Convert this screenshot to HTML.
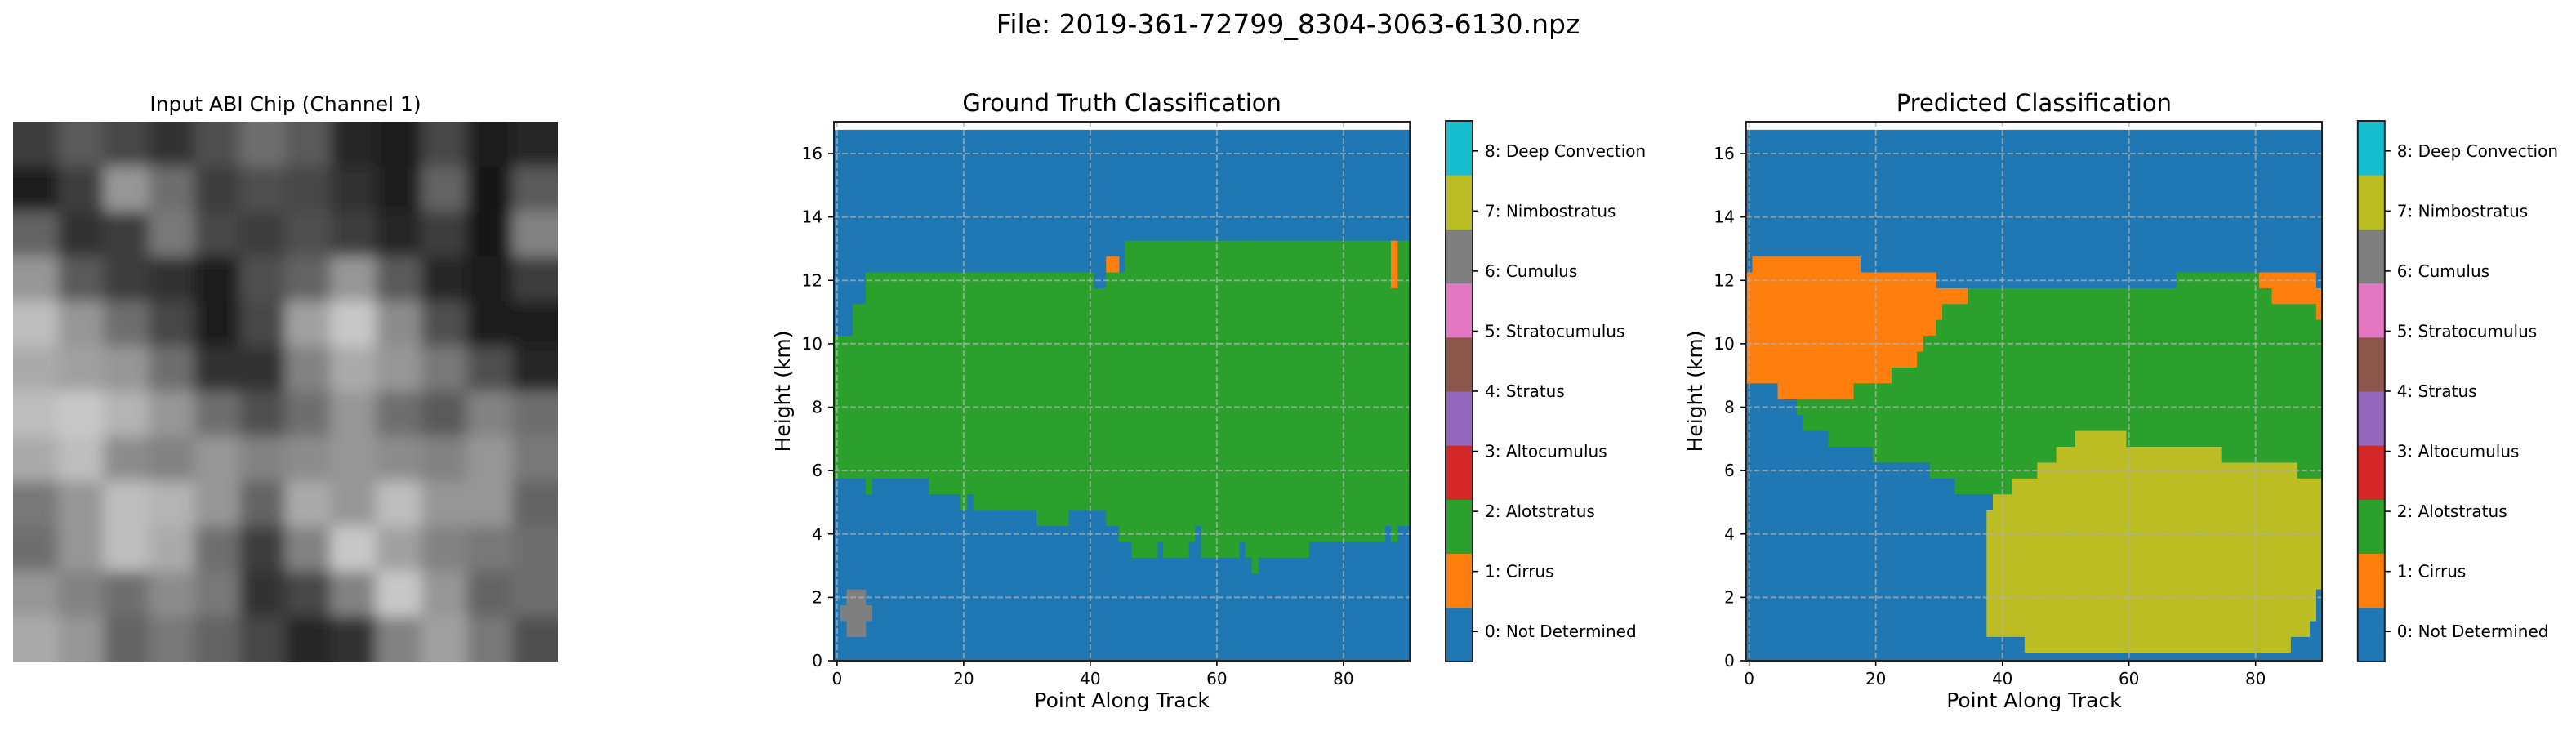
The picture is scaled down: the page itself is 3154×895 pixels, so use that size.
<!DOCTYPE html>
<html><head><meta charset="utf-8"><style>
html,body{margin:0;padding:0;background:#fff}
svg text{font-family:"DejaVu Sans","Liberation Sans",sans-serif;fill:#000}
</style></head><body>
<svg id="fig" width="3154" height="890" viewBox="0 0 3154 890" xmlns="http://www.w3.org/2000/svg">
<defs><filter id="blur" filterUnits="userSpaceOnUse" x="-200" y="0" width="1200" height="1100"><feGaussianBlur stdDeviation="9"/></filter>
<clipPath id="chipclip"><rect x="16" y="149" width="667" height="661"/></clipPath></defs>
<text x="1577" y="41" font-size="33" text-anchor="middle">File: 2019-361-72799_8304-3063-6130.npz</text>
<text x="349.5" y="136" font-size="25" text-anchor="middle">Input ABI Chip (Channel 1)</text>
<g id="chip" clip-path="url(#chipclip)"></g>
<g id="gt"></g>
<g id="pred"></g>
</svg>
<script>
const chipValues = [
[60,90,70,50,80,110,90,40,30,70,30,40],
[30,60,150,110,60,80,70,50,30,100,20,90],
[100,50,60,120,70,60,80,60,40,60,20,130],
[150,90,60,50,30,80,100,150,90,40,30,60],
[190,150,110,70,30,70,160,200,140,80,30,30],
[170,160,150,110,50,50,130,170,150,120,80,40],
[190,200,180,150,110,80,110,150,110,90,130,110],
[170,190,140,130,150,130,140,150,140,130,150,120],
[120,150,190,180,150,100,170,150,190,150,150,100],
[110,150,190,170,110,60,130,200,160,130,120,110],
[150,130,110,140,120,50,70,130,200,150,100,110],
[170,150,100,120,100,70,40,50,130,160,120,80]];
const classColors = ["#1f77b4","#ff7f0e","#2ca02c","#d62728","#9467bd","#8c564b","#e377c2","#7f7f7f","#bcbd22","#17becf"];
const classLabels = ["0: Not Determined","1: Cirrus","2: Alotstratus","3: Altocumulus","4: Stratus","5: Stratocumulus","6: Cumulus","7: Nimbostratus","8: Deep Convection"];
const xTicks = [0,20,40,60,80];
const yTicks = [0,2,4,6,8,10,12,14,16];
const nCols = 91;
const topHeight = 16.75;
// segments: [colStart, colEnd, bottomKm, topKm, colorIndex]
const gtSegments = [
[0,2,5.75,10.25,2],[3,4,5.75,11.25,2],[5,5,5.25,12.25,2],[6,14,5.75,12.25,2],[15,19,5.25,12.25,2],
[20,20,4.75,12.25,2],[21,21,5.25,12.25,2],[22,31,4.75,12.25,2],[32,36,4.25,12.25,2],[37,40,4.75,12.25,2],
[41,42,4.75,11.75,2],[43,44,4.25,12.25,2],[45,45,3.75,12.25,2],[46,46,3.75,13.25,2],[47,50,3.25,13.25,2],
[51,51,3.75,13.25,2],[52,55,3.25,13.25,2],[56,56,3.75,13.25,2],[57,57,4.25,13.25,2],[58,63,3.25,13.25,2],
[64,64,3.75,13.25,2],[65,65,3.25,13.25,2],[66,66,2.75,13.25,2],[67,74,3.25,13.25,2],[75,86,3.75,13.25,2],
[87,87,4.25,13.25,2],[88,88,3.75,13.25,2],[89,90,4.25,13.25,2],
[43,44,12.25,12.75,1],[88,88,11.75,13.25,1],
[2,4,0.75,2.25,7],[1,5,1.25,1.75,7]];
const predSegments = [
[0,0,8.75,12.25,1],[1,4,8.75,12.75,1],[5,16,8.25,12.75,1],[17,17,8.75,12.75,1],[18,22,8.75,12.25,1],
[23,26,9.25,12.25,1],[27,27,9.75,12.25,1],[28,29,10.25,12.25,1],[30,30,10.75,11.75,1],[31,34,11.25,11.75,1],
[81,82,11.75,12.25,1],[83,89,11.25,12.25,1],[90,90,10.75,11.75,1],
[8,8,7.75,8.25,2],[9,12,7.25,8.25,2],[13,16,6.75,8.25,2],[17,19,6.75,8.75,2],[20,22,6.25,8.75,2],
[23,26,6.25,9.25,2],[27,27,6.25,9.75,2],[28,28,6.25,10.25,2],[29,29,5.75,10.25,2],[30,30,5.75,10.75,2],
[31,32,5.75,11.25,2],[33,34,5.25,11.25,2],[35,41,5.25,11.75,2],[42,45,5.75,11.75,2],[46,48,6.25,11.75,2],
[49,51,6.75,11.75,2],[52,59,7.25,11.75,2],[60,67,6.75,11.75,2],[68,74,6.75,12.25,2],[75,80,6.25,12.25,2],
[81,82,6.25,11.75,2],[83,86,6.25,11.25,2],[87,89,5.75,11.25,2],[90,90,5.75,10.75,2],
[38,38,0.75,4.75,8],[39,41,0.75,5.25,8],[42,43,0.75,5.75,8],[44,45,0.25,5.75,8],[46,48,0.25,6.25,8],
[49,51,0.25,6.75,8],[52,59,0.25,7.25,8],[60,74,0.25,6.75,8],[75,85,0.25,6.25,8],[86,86,0.75,6.25,8],
[87,88,0.75,5.75,8],[89,89,1.25,5.75,8],[90,90,2.25,5.75,8]];

const NS="http://www.w3.org/2000/svg";
function mk(tag, attrs, parent){const e=document.createElementNS(NS,tag);for(const k in attrs)e.setAttribute(k,attrs[k]);parent.appendChild(e);return e;}

// chip
const chip=document.getElementById('chip');
const chipG=mk('g',{filter:'url(#blur)'},chip);
const cw=667/12, ch=661/12, pad=60;
chipValues.forEach((row,r)=>row.forEach((v,c)=>{
  let x=16+c*cw, y=149+r*ch, w=cw, h=ch;
  if(c===0){x-=pad;w+=pad;} if(c===11){w+=pad;}
  if(r===0){y-=pad;h+=pad;} if(r===11){h+=pad;}
  const el=mk('rect',{x:x-0.5,y:y-0.5,width:w+1,height:h+1,fill:`rgb(${v},${v},${v})`},chipG);
  
  
}));

function panel(g, x0, title, segs){
  const top=149, bot=809, pxPerCol=7.75, pxPerKm=(bot-188)/16;
  const X=v=>x0+(v+0.5)*pxPerCol;
  const Y=v=>bot-v*pxPerKm;
  const right=X(nCols-0.5);
  const bg=mk('rect',{x:X(-0.5),y:Y(topHeight),width:right-X(-0.5),height:Y(0)-Y(topHeight),fill:classColors[0]},g);
  
  
  segs.forEach(s=>{
    const r=mk('rect',{x:X(s[0]-0.5),y:Y(s[3]),width:(s[1]-s[0]+1)*pxPerCol+0.6,height:Y(s[2])-Y(s[3]),fill:classColors[s[4]]},g);
    
    
  });
  xTicks.forEach(t=>{
    const l=mk('line',{x1:X(t),x2:X(t),y1:top,y2:bot,stroke:'#b0b0b0','stroke-opacity':0.7,'stroke-width':2,'stroke-dasharray':'7,3'},g);
    
    
    mk('line',{x1:X(t),x2:X(t),y1:bot,y2:bot+7,stroke:'#000','stroke-width':1.6},g);
    const tx=mk('text',{x:X(t),y:838,'font-size':20,'text-anchor':'middle'},g);tx.textContent=t;
    
    
  });
  yTicks.forEach(t=>{
    const l=mk('line',{x1:X(-0.5),x2:right,y1:Y(t),y2:Y(t),stroke:'#b0b0b0','stroke-opacity':0.7,'stroke-width':2,'stroke-dasharray':'7,3'},g);
    
    
    mk('line',{x1:X(-0.5)-7,x2:X(-0.5),y1:Y(t),y2:Y(t),stroke:'#000','stroke-width':1.6},g);
    const tx=mk('text',{x:X(-0.5)-14,y:Y(t)+7,'font-size':20,'text-anchor':'end'},g);tx.textContent=t;
    
    
  });
  const fr=mk('rect',{x:X(-0.5),y:top,width:right-X(-0.5),height:bot-top,fill:'none',stroke:'#222','stroke-width':2},g);
  
  
  const ti=mk('text',{x:(X(-0.5)+right)/2,y:136,'font-size':29,'text-anchor':'middle'},g);ti.textContent=title;
  
  
  const xl=mk('text',{x:(X(-0.5)+right)/2,y:866,'font-size':25,'text-anchor':'middle'},g);xl.textContent='Point Along Track';
  
  
  const yl=mk('text',{x:0,y:0,'font-size':25,'text-anchor':'middle',transform:`translate(${x0-54},${(top+bot)/2}) rotate(-90)`},g);yl.textContent='Height (km)';
  
  
  // colorbar
  const cbx=x0+749, cbw=33, cbTop=148, cbBot=810, n=classColors.length;
  const segH=(cbBot-cbTop)/n;
  classColors.forEach((c,i)=>{
    const r=mk('rect',{x:cbx,y:cbBot-(i+1)*segH,width:cbw,height:segH+0.5,fill:c},g);
    
    
  });
  const cbf=mk('rect',{x:cbx,y:cbTop,width:cbw,height:cbBot-cbTop,fill:'none',stroke:'#222','stroke-width':2},g);
  
  
  classLabels.forEach((lab,i)=>{
    const yy=cbBot-(i+0.5)*(cbBot-cbTop)/classLabels.length;
    mk('line',{x1:cbx+cbw,x2:cbx+cbw+7,y1:yy,y2:yy,stroke:'#000','stroke-width':1.6},g);
    const tx=mk('text',{x:cbx+cbw+15,y:yy+7,'font-size':20},g);tx.textContent=lab;
    
    
  });
}
panel(document.getElementById('gt'),1021,'Ground Truth Classification',gtSegments);
panel(document.getElementById('pred'),2137.8,'Predicted Classification',predSegments);
</script>
</body></html>
